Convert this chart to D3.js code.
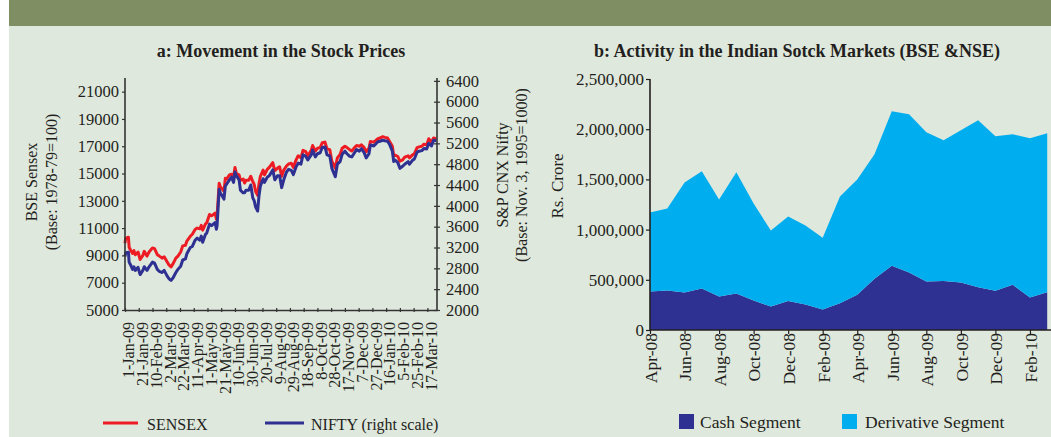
<!DOCTYPE html>
<html>
<head>
<meta charset="utf-8">
<title>Stock Markets</title>
<script type="text/javascript" src="https://cdn.jsdelivr.net/npm/d3@7/dist/d3.min.js"></script>
<style>
body { margin:0; padding:0; background:#ffffff; }
svg text { font-family:"Liberation Serif", serif; fill:#231f20; }
</style>
</head>
<body>
<div id="chart"></div>

<script>
// panel a: daily closes
var days = ["2009-01-01","2009-01-02","2009-01-06","2009-01-07","2009-01-09","2009-01-12","2009-01-14","2009-01-16",
	"2009-01-20","2009-01-23","2009-01-27","2009-01-29","2009-02-02","2009-02-05","2009-02-10","2009-02-13",
	"2009-02-17","2009-02-20","2009-02-24","2009-02-27","2009-03-03","2009-03-06","2009-03-09","2009-03-12",
	"2009-03-16","2009-03-19","2009-03-23","2009-03-26","2009-03-30","2009-04-01","2009-04-06","2009-04-09",
	"2009-04-13","2009-04-16","2009-04-20","2009-04-22","2009-04-24","2009-04-28","2009-04-30","2009-05-04",
	"2009-05-07","2009-05-12","2009-05-14","2009-05-15","2009-05-18","2009-05-20","2009-05-22","2009-05-25",
	"2009-05-27","2009-05-29","2009-06-02","2009-06-05","2009-06-08","2009-06-10","2009-06-12","2009-06-16",
	"2009-06-18","2009-06-22","2009-06-24","2009-06-26","2009-06-30","2009-07-03","2009-07-06","2009-07-08",
	"2009-07-10","2009-07-13","2009-07-15","2009-07-17","2009-07-21","2009-07-23","2009-07-27","2009-07-30",
	"2009-08-04","2009-08-07","2009-08-11","2009-08-14","2009-08-17","2009-08-20","2009-08-24","2009-08-27",
	"2009-08-31","2009-09-03","2009-09-07","2009-09-10","2009-09-14","2009-09-17","2009-09-21","2009-09-24",
	"2009-09-29","2009-10-01","2009-10-05","2009-10-08","2009-10-12","2009-10-15","2009-10-19","2009-10-22",
	"2009-10-26","2009-10-29","2009-11-03","2009-11-06","2009-11-10","2009-11-13","2009-11-17","2009-11-20",
	"2009-11-24","2009-11-27","2009-12-01","2009-12-04","2009-12-08","2009-12-11","2009-12-15","2009-12-18",
	"2009-12-22","2009-12-24","2009-12-29","2010-01-04","2010-01-07","2010-01-11","2010-01-14","2010-01-18",
	"2010-01-21","2010-01-25","2010-01-27","2010-01-29","2010-02-02","2010-02-05","2010-02-09","2010-02-12",
	"2010-02-17","2010-02-19","2010-02-23","2010-02-26","2010-03-02","2010-03-05","2010-03-09","2010-03-12",
	"2010-03-16","2010-03-19","2010-03-23","2010-03-26","2010-03-30"];

var sensex = [9900,10250,10330,9600,9400,9150,9350,9050,
	9250,8700,9000,9300,8950,9250,9550,9500,
	9050,8950,8800,8900,8550,8300,8160,8400,
	8800,8950,9250,9700,9750,10050,10400,10550,
	10900,11000,10950,11200,10850,11300,11400,12000,
	11900,12100,11650,11900,14280,14000,13900,13700,
	14650,14600,14900,14950,14750,15450,15000,14900,
	14500,14600,14300,14500,14500,14800,14400,14200,
	13700,13400,14250,14800,15250,14900,15300,15450,
	15800,15200,15400,15500,14800,15250,15550,15700,
	15750,15450,16000,16300,16150,16700,16600,16300,
	16700,17050,16650,16850,16900,17250,17300,16800,
	16750,15900,15400,16150,16400,16850,17000,16900,
	16750,16650,16900,17050,17000,17100,16900,16600,
	16850,17350,17300,17550,17600,17700,17650,17600,
	17350,17000,16300,16350,16250,15900,16000,16200,
	16300,16150,16350,16450,16900,16950,17000,17150,
	17100,17550,17300,17600,17550];

var nifty = [3030,3100,3110,2920,2870,2780,2830,2760,
	2820,2680,2760,2830,2760,2830,2920,2900,
	2780,2740,2720,2760,2660,2600,2570,2620,
	2720,2780,2840,2960,2980,3080,3200,3220,
	3340,3380,3340,3420,3300,3450,3480,3650,
	3620,3680,3550,3620,4320,4240,4200,4130,
	4380,4420,4500,4550,4450,4650,4580,4500,
	4300,4250,4250,4300,4300,4400,4150,4100,
	3980,3900,4200,4380,4520,4450,4550,4580,
	4690,4500,4580,4580,4350,4500,4650,4700,
	4680,4600,4750,4820,4800,4980,4950,4880,
	4980,5070,4940,5000,5020,5120,5130,4980,
	4960,4720,4560,4800,4850,4990,5050,5000,
	4950,4940,5020,5080,5050,5100,5020,4920,
	5000,5170,5150,5230,5240,5260,5250,5240,
	5180,5050,4850,4880,4830,4720,4760,4800,
	4850,4800,4870,4900,5030,5050,5060,5100,
	5090,5200,5150,5260,5250];

var dayTicks = ["1-Jan-09","21-Jan-09","10-Feb-09","2-Mar-09","22-Mar-09","11-Apr-09","1-May-09","21-May-09",
	"10-Jun-09","30-Jun-09","20-Jul-09","9-Aug-09","29-Aug-09","18-Sep-09","8-Oct-09","28-Oct-09",
	"17-Nov-09","7-Dec-09","27-Dec-09","16-Jan-10","5-Feb-10","25-Feb-10","17-Mar-10"];
var sensexTicks = [5000,7000,9000,11000,13000,15000,17000,19000,21000];
var niftyTicks = [2000,2400,2800,3200,3600,4000,4400,4800,5200,5600,6000,6400];

// panel b: monthly turnover, Rs. crore
var months = ["Apr-08","May-08","Jun-08","Jul-08","Aug-08","Sep-08","Oct-08","Nov-08","Dec-08","Jan-09","Feb-09","Mar-09",
	"Apr-09","May-09","Jun-09","Jul-09","Aug-09","Sep-09","Oct-09","Nov-09","Dec-09","Jan-10","Feb-10","Mar-10"];
var cash = [383000,393000,373000,413000,333000,363000,293000,233000,290000,253000,203000,267000,
	350000,510000,640000,573000,483000,487000,473000,427000,390000,450000,323000,377000];
var derivative = [787000,817000,1097000,1167000,967000,1207000,967000,757000,840000,787000,717000,1063000,
	1150000,1240000,1540000,1577000,1487000,1403000,1517000,1663000,1540000,1500000,1587000,1583000];
var monthTicks = ["Apr-08","Jun-08","Aug-08","Oct-08","Dec-08","Feb-09","Apr-09","Jun-09","Aug-09","Oct-09","Dec-09","Feb-10"];
var turnoverTicks = [0,500000,1000000,1500000,2000000,2500000];

var W = 1051, H = 437;
var svg = d3.select("#chart").append("svg").attr("width", W).attr("height", H);

svg.append("rect").attr("x", 9).attr("y", 0).attr("width", W - 9).attr("height", H).attr("fill", "#dfe8dc");
svg.append("rect").attr("x", 9).attr("y", 0).attr("width", W - 9).attr("height", 26).attr("fill", "#808e63");

var parseDay = d3.timeParse("%Y-%m-%d");
var parseTick = d3.timeParse("%d-%b-%y");

// ---------- panel a ----------
var a = { left:125, right:437, top:78, bottom:310 };
var x = d3.scaleTime().domain([parseDay("2009-01-01"), parseDay("2010-03-31")]).range([a.left, a.right]);
var yL = d3.scaleLinear().domain([5000, 22000]).range([a.bottom, a.top]);
var yR = d3.scaleLinear().domain([2000, 6455]).range([a.bottom, a.top]);

svg.append("text").attr("x", 281).attr("y", 57).attr("text-anchor", "middle")
	.style("font-size", "18px").style("font-weight", "bold").text("a: Movement in the Stock Prices");

var series = days.map(function(d, i){ return { date: parseDay(d), s: sensex[i], n: nifty[i] }; });

svg.append("path").datum(series)
	.attr("fill", "none").attr("stroke", "#ed1c24").attr("stroke-width", 3).attr("stroke-linejoin", "round")
	.attr("d", d3.line().x(function(d){ return x(d.date); }).y(function(d){ return yL(d.s); }));
svg.append("path").datum(series)
	.attr("fill", "none").attr("stroke", "#2e3192").attr("stroke-width", 3).attr("stroke-linejoin", "round")
	.attr("d", d3.line().x(function(d){ return x(d.date); }).y(function(d){ return yR(d.n); }));

var axL = svg.append("g").attr("transform", "translate(" + a.left + ",0)")
	.call(d3.axisLeft(yL).tickValues(sensexTicks).tickSize(3).tickSizeOuter(0).tickPadding(3).tickFormat(d3.format("d")));
var axR = svg.append("g").attr("transform", "translate(" + a.right + ",0)")
	.call(d3.axisRight(yR).tickValues(niftyTicks).tickSize(3).tickSizeOuter(0).tickPadding(6).tickFormat(d3.format("d")));
axR.selectAll(".tick line").attr("x1", -3);
var axB = svg.append("g").attr("transform", "translate(0," + a.bottom + ")")
	.call(d3.axisBottom(x).tickValues(dayTicks.map(parseTick)).tickSize(2).tickSizeOuter(0).tickFormat(d3.timeFormat("%-d-%b-%y")));
axB.selectAll(".tick line").attr("y1", -2);
axB.selectAll(".tick text").attr("transform", "rotate(-90)").attr("text-anchor", "end")
	.attr("x", -12).attr("y", 0).attr("dy", "0.55em").style("font-size", "16px");

[axL, axR, axB].forEach(function(g){
	g.select(".domain").attr("stroke", "#333").attr("stroke-width", 1.6);
	g.selectAll(".tick line").attr("stroke", "#333").attr("stroke-width", 1.2);
	g.selectAll(".tick text").style("font-family", "Liberation Serif").attr("fill", "#231f20");
});
axL.selectAll(".tick text").style("font-size", "16.5px");
axR.selectAll(".tick text").style("font-size", "16.5px");
axL.select(".domain").attr("d", "M0," + a.bottom + "V" + a.top);
axR.select(".domain").attr("d", "M0," + a.bottom + "V" + a.top);

svg.append("text").attr("transform", "translate(37,182) rotate(-90)").attr("text-anchor", "middle")
	.style("font-size", "16px").text("BSE Sensex");
svg.append("text").attr("transform", "translate(57,182) rotate(-90)").attr("text-anchor", "middle")
	.style("font-size", "16px").text("(Base: 1978-79=100)");
svg.append("text").attr("transform", "translate(508,175) rotate(-90)").attr("text-anchor", "middle")
	.style("font-size", "16px").text("S&P CNX Nifty");
svg.append("text").attr("transform", "translate(527,175) rotate(-90)").attr("text-anchor", "middle")
	.style("font-size", "16px").text("(Base: Nov. 3, 1995=1000)");

// legend a
svg.append("line").attr("x1", 103).attr("x2", 138).attr("y1", 423).attr("y2", 423).attr("stroke", "#ed1c24").attr("stroke-width", 3);
svg.append("text").attr("x", 147).attr("y", 430).style("font-size", "16px").text("SENSEX");
svg.append("line").attr("x1", 265).attr("x2", 304).attr("y1", 423).attr("y2", 423).attr("stroke", "#2e3192").attr("stroke-width", 3);
svg.append("text").attr("x", 311).attr("y", 430).style("font-size", "16px").text("NIFTY (right scale)");

// ---------- panel b ----------
var b = { left:650, top:79, bottom:330 };
var step = 17.27;
var xb = d3.scalePoint().domain(months).range([b.left, b.left + step * (months.length - 1)]);
var yb = d3.scaleLinear().domain([0, 2500000]).range([b.bottom, b.top]);

svg.append("text").attr("x", 797).attr("y", 57).attr("text-anchor", "middle")
	.style("font-size", "18px").style("font-weight", "bold").text("b: Activity in the Indian Sotck Markets (BSE &NSE)");

var table = months.map(function(m, i){ return { month: m, cash: cash[i], derivative: derivative[i] }; });
var stacked = d3.stack().keys(["cash", "derivative"])(table);
var fills = { cash: "#2e3192", derivative: "#00aeef" };

svg.selectAll("path.layer").data(stacked).enter().append("path")
	.attr("class", "layer")
	.attr("fill", function(d){ return fills[d.key]; })
	.attr("d", d3.area()
		.x(function(d){ return xb(d.data.month); })
		.y0(function(d){ return yb(d[0]); })
		.y1(function(d){ return yb(d[1]); }));

var bxL = svg.append("g").attr("transform", "translate(" + b.left + ",0)")
	.call(d3.axisLeft(yb).tickValues(turnoverTicks).tickSize(4).tickSizeOuter(0).tickPadding(2).tickFormat(d3.format(",")));
var bxB = svg.append("g").attr("transform", "translate(0," + b.bottom + ")")
	.call(d3.axisBottom(xb).tickValues(monthTicks).tickSize(4).tickSizeOuter(0));
bxB.select(".domain").attr("d", "M" + b.left + ",0H" + W);
bxB.selectAll(".tick text").attr("transform", "rotate(-90)").attr("text-anchor", "end")
	.attr("x", -3).attr("y", 0).attr("dy", "0.36em").style("font-size", "17.5px");
bxL.selectAll(".tick text").style("font-size", "17px");
bxL.select(".domain").attr("d", "M0," + b.bottom + "V" + b.top);
[bxL, bxB].forEach(function(g){
	g.select(".domain").attr("stroke", "#231f20").attr("stroke-width", 1.6);
	g.selectAll(".tick line").attr("stroke", "#231f20").attr("stroke-width", 1.2);
	g.selectAll(".tick text").style("font-family", "Liberation Serif").attr("fill", "#231f20");
});

svg.append("text").attr("transform", "translate(563,186) rotate(-90)").attr("text-anchor", "middle")
	.style("font-size", "17px").text("Rs. Crore");

// legend b
svg.append("rect").attr("x", 679).attr("y", 414).attr("width", 15).attr("height", 15).attr("fill", "#2e3192");
svg.append("text").attr("x", 700).attr("y", 428).style("font-size", "17.5px").text("Cash Segment");
svg.append("rect").attr("x", 842).attr("y", 414).attr("width", 15).attr("height", 15).attr("fill", "#00aeef");
svg.append("text").attr("x", 865).attr("y", 428).style("font-size", "17.5px").text("Derivative Segment");
</script>
</body>
</html>
